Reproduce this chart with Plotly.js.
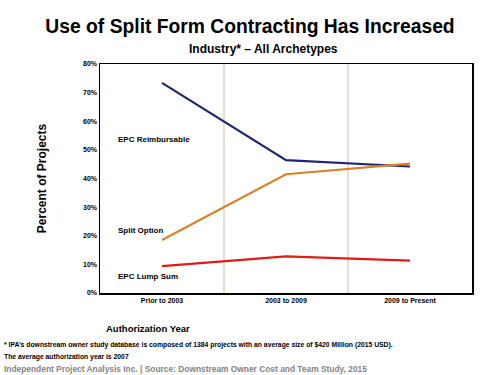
<!DOCTYPE html>
<html><head><meta charset="utf-8">
<script src="https://cdn.plot.ly/plotly-3.0.1.min.js"></script>
<style>html,body{margin:0;padding:0;background:#fff}#chart{width:500px;height:375px}</style>
</head><body><div id="chart"></div>
<script>
const categories = ["Prior to 2003", "2003 to 2009", "2009 to Present"];
const epcReimbursable = [0.734, 0.464, 0.442];
const splitOption = [0.185, 0.415, 0.452];
const epcLumpSum = [0.094, 0.128, 0.113];
const yTicks = [0, 0.1, 0.2, 0.3, 0.4, 0.5, 0.6, 0.7, 0.8];
const yTickLabels = ["0%", "10%", "20%", "30%", "40%", "50%", "60%", "70%", "80%"];
const seriesNames = ["EPC Reimbursable", "Split Option", "EPC Lump Sum"];

const seriesData = [epcReimbursable, splitOption, epcLumpSum];
const seriesColors = ["#1f2670", "#d9822b", "#e31a1c"];
const labelY = [0.535, 0.22, 0.058];

const traces = seriesData.map((vals, i) => ({
  x: [0, 1, 2], y: vals, type: "scatter", mode: "lines", name: seriesNames[i],
  line: {color: seriesColors[i], width: 2.2}, hoverinfo: "skip"
}));

const labelFont = {family: "Arial, Liberation Sans", size: 8, color: "#000"};
const annotations = seriesNames.map((n, i) => ({
  x: -0.37, y: labelY[i], xref: "x", yref: "y", text: "<b>" + n + "</b>",
  showarrow: false, xanchor: "left", yanchor: "middle", font: labelFont
}));
const footFont = {family: "Liberation Sans Narrow, Arial Narrow, Liberation Sans", size: 6.8, color: "#000"};
annotations.push(
  {xref: "paper", yref: "paper", x: 0.44, y: 1.025, xanchor: "center", yanchor: "bottom",
   text: "<b>Industry* – All Archetypes</b>", showarrow: false,
   font: {family: "Arial, Liberation Sans", size: 12, color: "#000"}},
  {xref: "paper", yref: "paper", x: 0.13, y: -0.155, xanchor: "center", yanchor: "middle",
   text: "<b>Authorization Year</b>", showarrow: false,
   font: {family: "Arial, Liberation Sans", size: 9.5, color: "#000"}},
  {xref: "paper", yref: "paper", x: -0.263, y: -0.225, xanchor: "left", yanchor: "middle",
   text: "<b>* IPA’s downstream owner study database is composed of 1384 projects with an average size of $420 Million (2015 USD).</b>",
   showarrow: false, font: footFont},
  {xref: "paper", yref: "paper", x: -0.263, y: -0.278, xanchor: "left", yanchor: "middle",
   text: "<b>The average authorization year is 2007</b>",
   showarrow: false, font: footFont},
  {xref: "paper", yref: "paper", x: -0.263, y: -0.33, xanchor: "left", yanchor: "middle",
   text: "<b>Independent Project Analysis Inc. | Source: Downstream Owner Cost and Team Study, 2015</b>",
   showarrow: false, font: {family: "Arial, Liberation Sans", size: 8.4, color: "#858585"}}
);

const layout = {
  width: 500, height: 375,
  margin: {l: 100, r: 28, t: 64, b: 82},
  paper_bgcolor: "#fff", plot_bgcolor: "#fff",
  showlegend: false,
  title: {text: "<b>Use of Split Form Contracting Has Increased</b>", x: 0.5, xanchor: "center",
          y: 0.93, yanchor: "middle", font: {family: "Arial, Liberation Sans", size: 19.3, color: "#000"}},
  xaxis: {range: [-0.5, 2.5], tickvals: [0, 1, 2], ticktext: categories, showgrid: false,
          zeroline: false, showline: true, linecolor: "#000", linewidth: 1.5, mirror: true,
          ticks: "", tickfont: {family: "Arial, Liberation Sans", size: 7, color: "#000", weight: "bold"},
          fixedrange: true},
  yaxis: {range: [0, 0.8], tickvals: yTicks, ticktext: yTickLabels, showgrid: false,
          zeroline: false, showline: true, linecolor: "#000", linewidth: 1.5, mirror: true,
          ticks: "", tickfont: {family: "Arial, Liberation Sans", size: 7, color: "#000", weight: "bold"},
          title: {text: "<b>Percent of Projects</b>", standoff: 34,
                  font: {family: "Arial, Liberation Sans", size: 12, color: "#000"}},
          fixedrange: true},
  shapes: [0.5, 1.5].map(v => ({type: "line", xref: "x", yref: "y", x0: v, x1: v, y0: 0, y1: 0.8,
           line: {color: "#c8c0a0", width: 1}, layer: "below"})),
  annotations: annotations
};

Plotly.newPlot("chart", traces, layout, {displayModeBar: false, staticPlot: true});
</script></body></html>
